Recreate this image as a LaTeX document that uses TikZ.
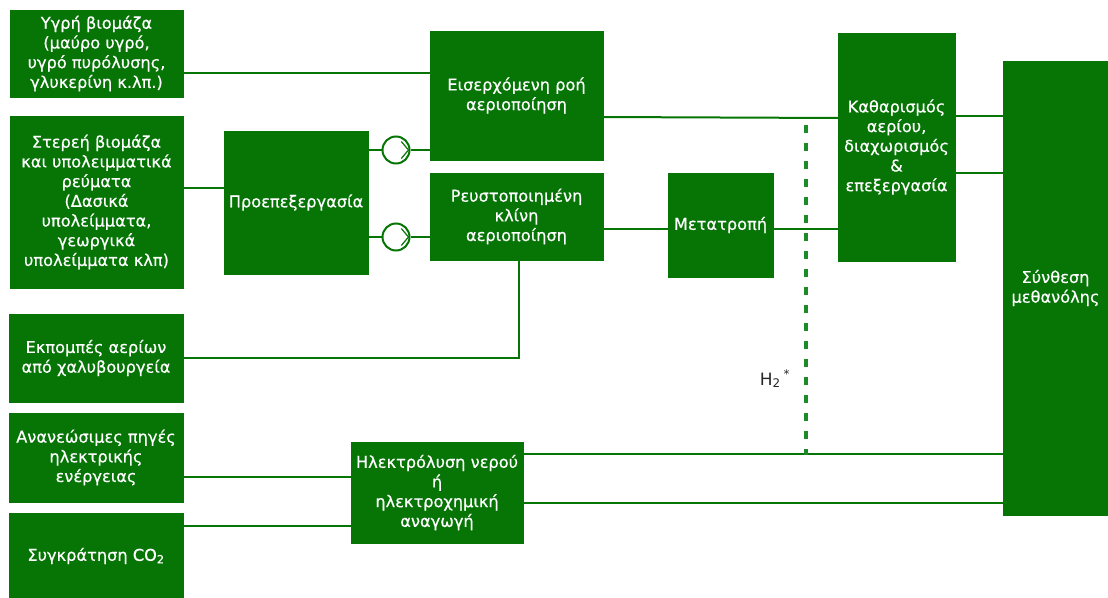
\documentclass[tikz,border=0pt]{standalone}
\usepackage{fontspec}
\setmainfont{DejaVu Sans}
\newfontfamily\bxf{DejaVu Sans}[FakeBold=0.5]
\definecolor{gr}{RGB}{6,117,6}
\definecolor{dgr}{RGB}{28,138,40}
\begin{document}
\begin{tikzpicture}[x=1pt,y=-1pt,
  box/.style={fill=gr,draw=gr,text=white,align=center,inner sep=0pt,
    font=\bxf\fontsize{16.2}{19.7}\selectfont},
  conn/.style={draw=gr,line width=2pt},
  dconn/.style={draw=dgr,line width=3.2pt,dash pattern=on 8pt off 10pt},
  pump/.style={circle,draw=gr,fill=white,line width=2pt,minimum size=27pt,inner sep=0pt},
  chev/.style={draw=gr,line width=1.2pt}]
\useasboundingbox (0,0) rectangle (1108,597);

\node[box,minimum width=173pt,minimum height=87pt] (A) at (96.5,53.5)
  {Υγρή βιομάζα\\(μαύρο υγρό,\\υγρό πυρόλυσης,\\γλυκερίνη κ.λπ.)};
\node[box,minimum width=173pt,minimum height=172pt] (B) at (96.5,202)
  {Στερεή βιομάζα\\και υπολειμματικά\\ρεύματα\\(Δασικά\\υπολείμματα,\\γεωργικά\\υπολείμματα κλπ)};
\node[box,minimum width=144pt,minimum height=143pt] (C) at (296,202.5) {Προεπεξεργασία};
\node[box,minimum width=173pt,minimum height=129pt] (D) at (516.5,95.5) {Εισερχόμενη ροή\\αεριοποίηση};
\node[box,minimum width=173pt,minimum height=87pt] (E) at (516.5,216.5) {Ρευστοποιημένη\\κλίνη\\αεριοποίηση};
\node[box,minimum width=105pt,minimum height=104pt] (F) at (720.5,225) {Μετατροπή};
\node[box,minimum width=117pt,minimum height=228pt] (G) at (896.5,147)
  {Καθαρισμός\\αερίου,\\διαχωρισμός\\\&\\επεξεργασία};
\node[box,minimum width=105pt,minimum height=454pt] (H) at (1055.5,288) {Σύνθεση\\μεθανόλης};
\node[box,minimum width=174pt,minimum height=88pt] (I) at (96,358) {Εκπομπές αερίων\\από χαλυβουργεία};
\node[box,minimum width=174pt,minimum height=89pt] (J) at (96,457.5) {Ανανεώσιμες πηγές\\ηλεκτρικής\\ενέργειας};
\node[box,minimum width=174pt,minimum height=86pt] (K) at (96,556) {Συγκράτηση CO\textsubscript{2}};
\node[box,minimum width=172pt,minimum height=101pt] (L) at (437,492.5)
  {Ηλεκτρόλυση νερού\\ή\\ηλεκτροχημική\\αναγωγή};

\node[pump] (P1) at (396,150) {};
\node[pump] (P2) at (396,237) {};
\foreach \p in {P1,P2}{
  \draw[chev] ([shift={(58:10)}]\p.center) -- ([shift={(0:12.5)}]\p.center) -- ([shift={(-58:10)}]\p.center);
}

\draw[conn] (A.east |- 0,73) -- (D.west |- 0,73);
\draw[conn] (B.east |- 0,188) -- (C.west |- 0,188);
\draw[conn] (C.east |- P1.west) -- (P1.west);
\draw[conn] (P1.east) -- (D.west |- P1.east);
\draw[conn] (C.east |- P2.west) -- (P2.west);
\draw[conn] (P2.east) -- (E.west |- P2.east);
\draw[conn] (D.east |- 0,117) -- (G.west |- 0,118);
\draw[conn] (E.east |- 0,229) -- (F.west |- 0,229);
\draw[conn] (F.east |- 0,229) -- (G.west |- 0,229);
\draw[conn] (G.east |- 0,116) -- (H.west |- 0,116);
\draw[conn] (G.east |- 0,173) -- (H.west |- 0,173);
\coordinate (ebend) at (519,358);
\draw[conn] (E.south -| ebend) -- (ebend) -- (I.east |- ebend);
\draw[conn] (J.east |- 0,477) -- (L.west |- 0,477);
\draw[conn] (K.east |- 0,526) -- (L.west |- 0,526);
\draw[conn] (L.east |- 0,454) -- (H.west |- 0,454);
\draw[conn] (L.east |- 0,503) -- (H.west |- 0,503);

\coordinate (h2top) at (806,125);
\coordinate (h2bot) at (806,455);
\draw[dconn] (h2top) -- (h2bot);
\node[text=black!85,font=\fontsize{17}{19}\selectfont,inner sep=0pt] (h2) at (775,379) {H\textsubscript{2}\,\textsuperscript{*}};
\end{tikzpicture}
\end{document}
